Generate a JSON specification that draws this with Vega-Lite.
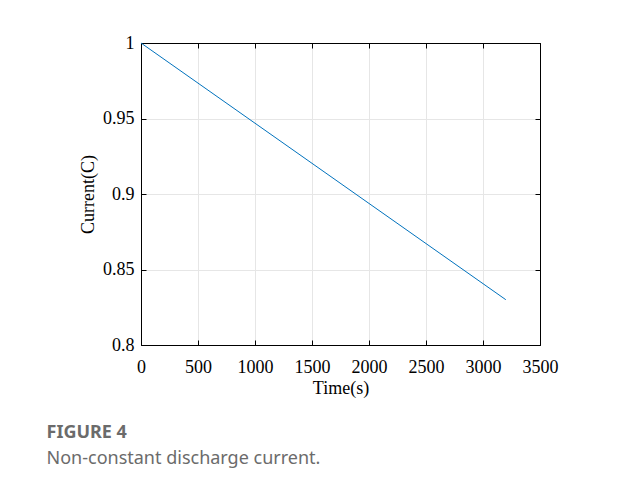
{
  "$schema": "https://vega.github.io/schema/vega-lite/v6.json",
  "width": 399,
  "height": 302,
  "autosize": "none",
  "padding": {"left": 141, "top": 43, "right": 85, "bottom": 146},
  "background": "white",
  "data": {"values": [
    {"time": 0, "current": 1.0},
    {"time": 3200, "current": 0.83}
  ]},
  "config": {
    "font": "Liberation Serif",
    "view": {"stroke": "black", "strokeWidth": 1},
    "axis": {
      "domainColor": "black",
      "tickColor": "black",
      "tickSize": -5,
      "labelFlush": false,
      "labelFont": "Liberation Serif",
      "labelFontSize": 18,
      "labelColor": "black",
      "titleFont": "Liberation Serif",
      "titleFontSize": 18,
      "titleFontWeight": "normal",
      "titleColor": "black",
      "gridColor": "#e6e6e6",
      "gridWidth": 1
    },
    "title": {
      "font": "Noto Sans",
      "color": "#6b6b6b"
    }
  },
  "title": {
    "text": "FIGURE 4",
    "subtitle": "Non-constant discharge current.",
    "orient": "bottom",
    "anchor": "start",
    "dx": -33,
    "offset": 27,
    "fontSize": 18,
    "fontWeight": "bold",
    "subtitleFont": "Noto Sans",
    "subtitleFontSize": 18,
    "subtitleColor": "#6b6b6b",
    "subtitlePadding": 8
  },
  "layer": [
    {
      "mark": {"type": "line", "color": "#0072BD", "strokeWidth": 1},
      "encoding": {
        "x": {
          "field": "time", "type": "quantitative",
          "scale": {"domain": [0, 3500], "nice": false, "zero": false},
          "axis": {
            "orient": "bottom",
            "values": [0, 500, 1000, 1500, 2000, 2500, 3000, 3500],
            "format": "d",
            "grid": true,
            "labelPadding": 18,
            "title": "Time(s)",
            "titlePadding": 3
          }
        },
        "y": {
          "field": "current", "type": "quantitative",
          "scale": {"domain": [0.8, 1.0], "nice": false, "zero": false},
          "axis": {
            "orient": "left",
            "values": [0.8, 0.85, 0.9, 0.95, 1.0],
            "format": "~g",
            "grid": true,
            "labelPadding": 12,
            "title": "Current(C)",
            "titlePadding": 5
          }
        }
      }
    },
    {
      "mark": {"type": "line", "strokeOpacity": 0},
      "encoding": {
        "x": {
          "field": "time", "type": "quantitative",
          "axis": {
            "orient": "top",
            "values": [0, 500, 1000, 1500, 2000, 2500, 3000, 3500],
            "labels": false, "grid": false, "title": null
          }
        },
        "y": {
          "field": "current", "type": "quantitative",
          "axis": {
            "orient": "right",
            "values": [0.8, 0.85, 0.9, 0.95, 1.0],
            "labels": false, "grid": false, "title": null
          }
        }
      }
    }
  ],
  "resolve": {"axis": {"x": "independent", "y": "independent"}}
}
